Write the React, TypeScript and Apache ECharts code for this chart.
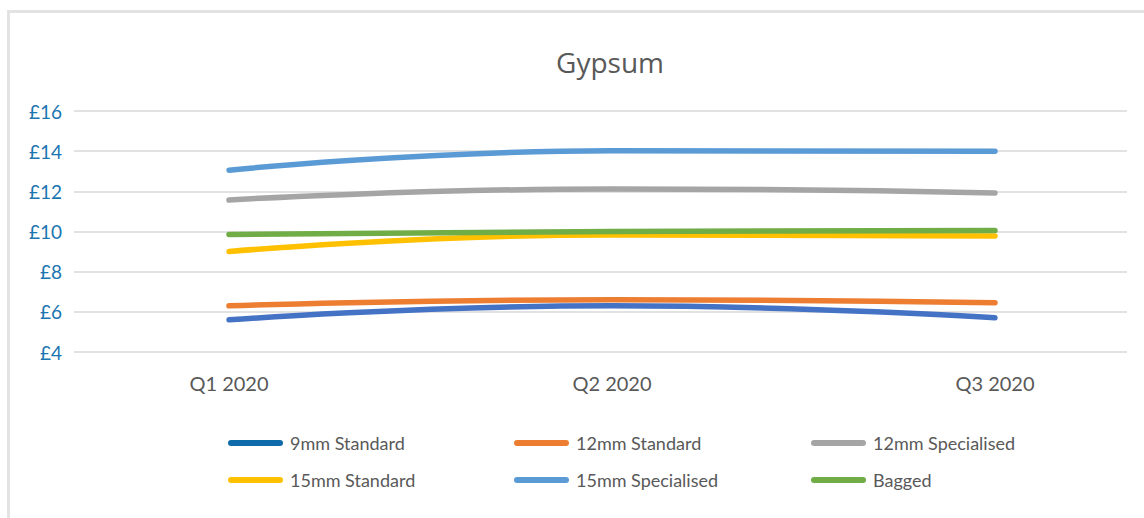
import React, { useEffect, useRef } from "react";
import * as echarts from "echarts";

const categories = ["Q1 2020", "Q2 2020", "Q3 2020"];
const seriesNames = [
  "9mm Standard",
  "12mm Standard",
  "12mm Specialised",
  "15mm Standard",
  "15mm Specialised",
  "Bagged",
];
const nineStandard = [5.6, 6.3, 5.7];
const twelveStandard = [6.3, 6.6, 6.45];
const twelveSpecialised = [11.57, 12.12, 11.92];
const fifteenStandard = [9.0, 9.83, 9.78];
const fifteenSpecialised = [13.05, 14.02, 14.0];
const bagged = [9.85, 10.0, 10.05];
const seriesValues = [
  nineStandard,
  twelveStandard,
  twelveSpecialised,
  fifteenStandard,
  fifteenSpecialised,
  bagged,
];
const lineColors = ["#4472C4", "#ED7D31", "#A5A5A5", "#FFC000", "#5B9BD5", "#70AD47"];
const legendColors = ["#0E6AA8", "#ED7D31", "#A5A5A5", "#FFC000", "#5B9BD5", "#70AD47"];
const yTicks = [4, 6, 8, 10, 12, 14, 16];

const FONT = "Lato, 'Open Sans', sans-serif";

export default function App() {
  const ref = useRef<HTMLDivElement>(null);

  useEffect(() => {
    if (!ref.current) return;
    const chart = echarts.init(ref.current, null, { renderer: "svg" });

    const gridTop = 111;
    const gridBottom = 518 - 352;
    const yMin = yTicks[0];
    const yMax = yTicks[yTicks.length - 1];

    const legendPos = [
      { left: 228, top: 434 },
      { left: 514, top: 434 },
      { left: 811, top: 434 },
      { left: 228, top: 471 },
      { left: 514, top: 471 },
      { left: 811, top: 471 },
    ];

    const option: echarts.EChartsOption = {
      animation: false,
      backgroundColor: "#ffffff",
      title: {
        text: "Gypsum",
        left: 605,
        top: 43,
        textAlign: "center",
        textStyle: {
          fontFamily: "'Open Sans', Lato, sans-serif",
          fontSize: 28,
          fontWeight: "normal",
          color: "#595959",
        },
      },
      graphic: [
        {
          type: "rect",
          shape: { x: 8.5, y: 11.5, width: 1150, height: 520 },
          style: { fill: "none", stroke: "#E3E3E3", lineWidth: 3 },
          silent: true,
        },
      ],
      legend: seriesNames.map((name, i) => ({
        data: [
          {
            name,
            itemStyle: { color: legendColors[i] },
          },
        ],
        left: legendPos[i].left,
        top: legendPos[i].top,
        padding: 0,
        itemWidth: 55,
        itemHeight: 18,
        itemGap: 0,
        icon: "path://M3,0 L52,0 A3,3 0 0 1 52,6 L3,6 A3,3 0 0 1 3,0 Z",
        textStyle: {
          fontFamily: FONT,
          fontSize: 18,
          color: "#595959",
          padding: [0, 0, 0, 2],
        },
      })),
      grid: [
        { left: 74, right: 1144 - 1127, top: gridTop, bottom: gridBottom },
        { left: 229, right: 1144 - 995, top: gridTop, bottom: gridBottom },
      ],
      xAxis: [
        {
          type: "category",
          gridIndex: 0,
          data: categories,
          show: false,
        },
        {
          type: "category",
          gridIndex: 1,
          data: categories,
          boundaryGap: false,
          axisLine: { show: false },
          axisTick: { show: false },
          axisLabel: {
            margin: 21,
            fontFamily: FONT,
            fontSize: 20,
            color: "#595959",
          },
        },
      ],
      yAxis: [
        {
          type: "value",
          gridIndex: 0,
          min: yMin,
          max: yMax,
          interval: 2,
          axisLine: { show: false },
          axisTick: { show: false },
          splitLine: { lineStyle: { color: "#D9D9D9", width: 1.5 } },
          axisLabel: {
            margin: 12,
            fontFamily: FONT,
            fontSize: 19,
            color: "#1B75B0",
            formatter: (v: number) => "£" + v,
          },
        },
        {
          type: "value",
          gridIndex: 1,
          min: yMin,
          max: yMax,
          interval: 2,
          show: false,
          splitLine: { show: false },
        },
      ],
      series: seriesNames.map((name, i) => ({
        name,
        type: "line",
        xAxisIndex: 1,
        yAxisIndex: 1,
        data: seriesValues[i],
        smooth: 0.5,
        symbol: "none",
        color: lineColors[i],
        lineStyle: { width: 5.5, cap: "round", color: lineColors[i] },
      })),
    };

    chart.setOption(option);
    return () => chart.dispose();
  }, []);

  return (
    <div
      ref={ref}
      style={{ position: "fixed", left: 0, top: 0, width: 1144, height: 518 }}
    />
  );
}
